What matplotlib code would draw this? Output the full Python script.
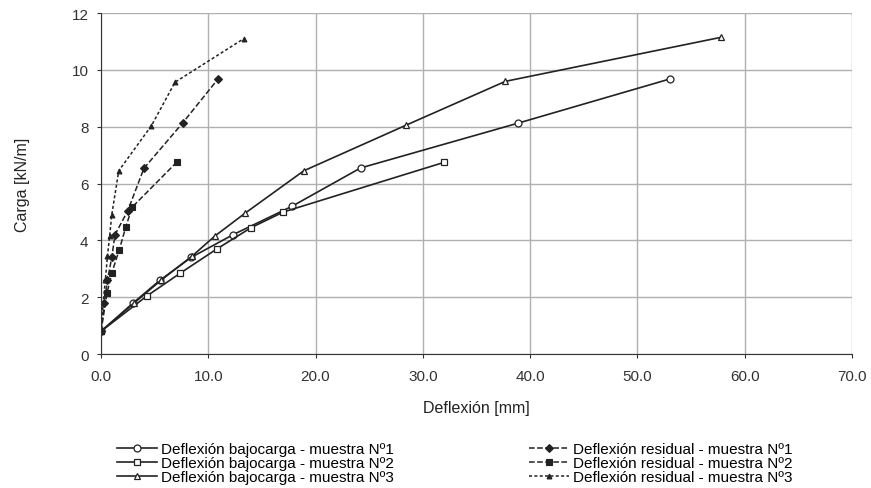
import matplotlib.pyplot as plt

plt.rcParams['font.family'] = ['Liberation Sans', 'DejaVu Sans']

# bajo carga
x_bc1 = [0, 3.0, 5.5, 8.4, 12.3, 17.8, 24.2, 38.9, 53.0]
y_bc1 = [0.8, 1.8, 2.6, 3.4, 4.2, 5.2, 6.55, 8.13, 9.68]
x_bc2 = [0, 4.3, 7.4, 10.8, 14.0, 17.0, 32.0]
y_bc2 = [0.8, 2.05, 2.85, 3.7, 4.45, 5.0, 6.75]
x_bc3 = [0, 3.1, 5.6, 8.5, 10.6, 13.4, 18.9, 28.4, 37.7, 57.8]
y_bc3 = [0.8, 1.8, 2.6, 3.45, 4.15, 4.95, 6.45, 8.05, 9.6, 11.15]

# residual
x_r1 = [0, 0.3, 0.6, 1.0, 1.3, 2.5, 4.0, 7.6, 10.9]
y_r1 = [0.8, 1.8, 2.6, 3.4, 4.2, 5.05, 6.54, 8.13, 9.68]
x_r2 = [0, 0.56, 1.0, 1.7, 2.3, 2.9, 7.1]
y_r2 = [0.8, 2.15, 2.85, 3.67, 4.46, 5.17, 6.77]
x_r3 = [0, 0.2, 0.4, 0.6, 0.8, 1.0, 1.65, 4.7, 6.9, 13.3]
y_r3 = [0.8, 1.8, 2.6, 3.45, 4.15, 4.9, 6.45, 8.04, 9.57, 11.1]

labels = ["Deflexión bajocarga - muestra Nº1",
          "Deflexión bajocarga - muestra Nº2",
          "Deflexión bajocarga - muestra Nº3",
          "Deflexión residual - muestra Nº1",
          "Deflexión residual - muestra Nº2",
          "Deflexión residual - muestra Nº3"]

fig = plt.figure(figsize=(8.71, 4.89), dpi=100)
ax = fig.add_axes([0.116, 0.274, 0.862, 0.697])

k = dict(color='#222222', lw=1.2, ms=5, mfc='white', mew=0.9)
ax.plot(x_bc1, y_bc1, '-o', label=labels[0], **k)
ax.plot(x_bc2, y_bc2, '-s', label=labels[1], **k)
ax.plot(x_bc3, y_bc3, '-^', label=labels[2], **k)
kr = dict(color='#222222', lw=1.1, mew=0.8, mfc='#222222')
ax.plot(x_r1, y_r1, '--D', ms=4.5, label=labels[3], **kr)
ax.plot(x_r2, y_r2, '--s', ms=5, label=labels[4], **kr)
ax.plot(x_r3, y_r3, '--^', ms=3.5, dashes=(2, 1.5), label=labels[5], **kr)

ax.set_xlim(0, 70)
ax.set_ylim(0, 12)
ax.set_xticks(range(0, 71, 10))
ax.set_xticklabels([f"{v:.1f}" for v in range(0, 71, 10)])
ax.set_yticks(range(0, 13, 2))
ax.grid(True, color='#b0b0b0', lw=1.0)
ax.set_axisbelow(True)
for s in ['top', 'right']:
    ax.spines[s].set_visible(False)
ax.spines['left'].set_color('#333333')
ax.spines['bottom'].set_color('#333333')
ax.tick_params(labelsize=11, length=3, colors='#333333')
ax.tick_params(axis='x', pad=8)
ax.tick_params(axis='y', pad=6)
ax.set_xlabel("Deflexión [mm]", fontsize=11.5, color='#222222', labelpad=12)
ax.set_ylabel("Carga [kN/m]", fontsize=11.5, color='#222222', labelpad=30)

fig.legend(loc='upper left', bbox_to_anchor=(117 / 871, 1 - 443 / 489), ncol=2, frameon=False,
           fontsize=11, columnspacing=8.9, handlelength=2.6, handletextpad=0.25,
           labelspacing=0.0, borderpad=0, borderaxespad=0)

fig.savefig('out.png', dpi=100)
